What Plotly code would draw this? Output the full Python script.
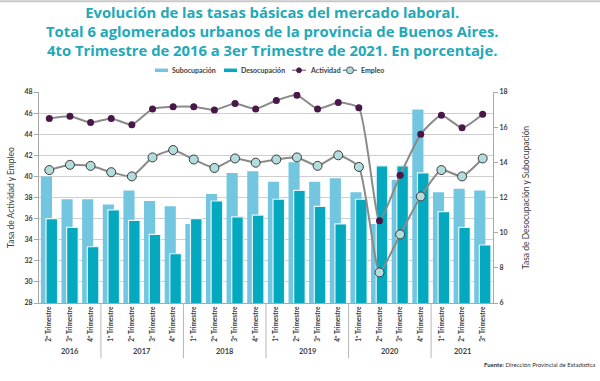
import plotly.graph_objects as go

years = ["2016"] * 3 + ["2017"] * 4 + ["2018"] * 4 + ["2019"] * 4 + ["2020"] * 4 + ["2021"] * 3
quarters = (["2º Trimestre", "3º Trimestre", "4º Trimestre"]
            + ["1º Trimestre", "2º Trimestre", "3º Trimestre", "4º Trimestre"] * 4
            + ["1º Trimestre", "2º Trimestre", "3º Trimestre"])

subocupacion = [13.2, 11.9, 11.9, 11.6, 12.4, 11.8, 11.5, 10.5, 12.2, 13.4, 13.5,
                12.9, 14.0, 12.9, 13.1, 12.3, 10.5, 13.0, 17.0, 12.3, 12.5, 12.4]
desocupacion = [10.8, 10.3, 9.2, 11.3, 10.7, 9.9, 8.8, 10.8, 11.8, 10.9, 11.0,
                11.9, 12.4, 11.5, 10.5, 11.9, 13.8, 13.8, 13.4, 11.2, 10.3, 9.3]
actividad = [45.5, 45.7, 45.1, 45.5, 44.9, 46.4, 46.6, 46.6, 46.3, 46.9, 46.4,
             47.2, 47.7, 46.4, 47.0, 46.5, 35.8, 40.1, 44.0, 45.8, 44.6, 45.9]
empleo = [40.6, 41.1, 41.0, 40.4, 40.0, 41.8, 42.5, 41.6, 40.8, 41.7, 41.3,
          41.6, 41.8, 41.0, 42.0, 40.9, 30.9, 34.5, 38.1, 40.6, 40.0, 41.7]

title_lines = [
    "Evolución de las tasas básicas del mercado laboral.",
    "Total 6 aglomerados urbanos de la provincia de Buenos Aires.",
    "4to Trimestre de 2016 a 3er Trimestre de 2021. En porcentaje.",
]
legend_names = ["Subocupación", "Desocupación", "Actividad", "Empleo"]

idx = list(range(len(quarters)))
FONT = "Lato"
TXT = "#404040"
C_SUB = "#72c6e0"
C_DES = "#04a9bf"
C_LINE = "#8a8a8a"
C_ACT = "#4a1848"
C_EMP = "#b3dcdc"
C_EMP_EDGE = "#3a3a3a"

# plot area in pixels (for placing decorations)
L, R, T, B = 39, 493, 91.7, 302.7
W, H = R - L, B - T


def pxx(x):
    return (x - L) / W


def pxy(y):
    return (B - y) / H


fig = go.Figure()
fig.add_trace(go.Bar(
    x=idx, y=subocupacion, name=legend_names[0], yaxis="y",
    marker=dict(color=C_SUB, line=dict(width=0)),
    offset=-0.41, width=0.54,
))
fig.add_trace(go.Bar(
    x=idx, y=desocupacion, name=legend_names[1], yaxis="y",
    marker=dict(color=C_DES, line=dict(color="#e4f6fa", width=1.2)),
    offset=-0.16, width=0.56,
))
fig.add_trace(go.Scatter(
    x=idx, y=actividad, name=legend_names[2], yaxis="y2", mode="lines+markers",
    line=dict(color=C_LINE, width=2, shape="spline", smoothing=0.5),
    marker=dict(color=C_ACT, size=7, line=dict(width=0)),
))
fig.add_trace(go.Scatter(
    x=idx, y=empleo, name=legend_names[3], yaxis="y2", mode="lines+markers",
    line=dict(color=C_LINE, width=2, shape="spline", smoothing=0.5),
    marker=dict(color=C_EMP, size=9, line=dict(color=C_EMP_EDGE, width=1)),
))

annotations = []
shapes = []

# year group labels and dividers, derived from the years list
groups = []
for i, yv in enumerate(years):
    if not groups or groups[-1][0] != yv:
        groups.append([yv, i, i])
    else:
        groups[-1][2] = i
for gi, (yv, a, b) in enumerate(groups):
    annotations.append(dict(
        text=f"<b>{yv}</b>", x=(a + b) / 2, y=pxy(351), xref="x", yref="paper",
        xanchor="center", yanchor="middle", showarrow=False,
        font=dict(family=FONT, size=7.5, color=TXT),
    ))
    if gi > 0:
        shapes.append(dict(type="line", xref="x", yref="paper",
                           x0=a - 0.5, x1=a - 0.5, y0=0, y1=pxy(358),
                           line=dict(color="#b8b8b8", width=1)))

# title (single multi-line text)
annotations.append(dict(
    text="<b>" + "<br>".join(title_lines) + "</b>", x=pxx(272), y=pxy(31),
    xref="paper", yref="paper", xanchor="center", yanchor="middle", align="center",
    showarrow=False, font=dict(family="Open Sans", size=14.8, color="#22a9b8"),
))

# legend (drawn by hand to match the compact Excel-style keys)
LY = 70
leg_font = dict(family=FONT, size=7, color=TXT, weight="bold")
key_specs = [
    (155, 168, 170, C_SUB, 3.5, None),
    (224, 237, 239, C_DES, 3.5, None),
    (292, 306, 308, C_LINE, 1.5, ("act", 299)),
    (343, 357, 359, C_LINE, 1.5, ("emp", 350)),
]
for name, (x0, x1, tx, col, lw, mk) in zip(legend_names, key_specs):
    shapes.append(dict(type="line", xref="paper", yref="paper",
                       x0=pxx(x0), x1=pxx(x1), y0=pxy(LY), y1=pxy(LY),
                       line=dict(color=col, width=lw)))
    if mk is not None:
        kind, cx = mk
        r = 2.5 if kind == "act" else 3.5
        fill = C_ACT if kind == "act" else C_EMP
        edge = C_ACT if kind == "act" else C_EMP_EDGE
        shapes.append(dict(type="circle", xref="paper", yref="paper",
                           x0=pxx(cx - r), x1=pxx(cx + r),
                           y0=pxy(LY + r), y1=pxy(LY - r),
                           fillcolor=fill, line=dict(color=edge, width=0.8)))
    annotations.append(dict(
        text=name, x=pxx(tx), y=pxy(LY), xref="paper", yref="paper",
        xanchor="left", yanchor="middle", showarrow=False, font=leg_font,
    ))

annotations.append(dict(
    text="<b>Fuente</b>: Dirección Provincial de Estadística",
    xref="paper", yref="paper", x=pxx(482), y=pxy(364),
    xanchor="left", yanchor="middle", showarrow=False,
    font=dict(family=FONT, size=6, color="#303030"),
))

shapes.append(dict(type="line", xref="paper", yref="paper",
                   x0=pxx(-10), x1=pxx(610), y0=pxy(1), y1=pxy(1),
                   line=dict(color="#c8c8c8", width=2)))

tickfont = dict(family=FONT, size=7, color=TXT, weight="bold")

fig.update_layout(
    width=600, height=381,
    margin=dict(l=L, r=600 - R, t=T, b=381 - B, autoexpand=False),
    paper_bgcolor="white", plot_bgcolor="white",
    barmode="overlay",
    showlegend=False,
    font=dict(family=FONT, color=TXT),
    xaxis=dict(
        range=[-0.5, len(idx) - 0.5],
        tickmode="array", tickvals=idx, ticktext=quarters,
        tickangle=-90,
        tickfont=dict(family=FONT, size=6.5, color=TXT, weight="bold"),
        showline=True, linecolor="#a8a8a8", linewidth=1,
        ticks="", showgrid=False, zeroline=False,
    ),
    yaxis=dict(
        side="right", range=[6, 18], dtick=2,
        showgrid=False, zeroline=False,
        showline=True, linecolor="#a8a8a8", linewidth=1,
        ticks="outside", ticklen=4, tickcolor="#a8a8a8",
        tickfont=tickfont,
        title=dict(text="Tasa de Desocupación y Subocupación",
                   font=dict(family=FONT, size=8.5, color=TXT), standoff=16),
    ),
    yaxis2=dict(
        side="left", overlaying="y", range=[28, 48], dtick=2,
        showgrid=True, gridcolor="#cfcfcf", gridwidth=1.3, zeroline=False,
        showline=True, linecolor="#a8a8a8", linewidth=1,
        ticks="outside", ticklen=4, tickcolor="#a8a8a8",
        tickfont=tickfont,
        title=dict(text="Tasa de Actividad y Empleo",
                   font=dict(family=FONT, size=8.5, color=TXT), standoff=8),
    ),
    annotations=annotations,
    shapes=shapes,
)

fig.write_html("out.html", config={"displayModeBar": False},
               post_script="document.body.style.margin='0';")
